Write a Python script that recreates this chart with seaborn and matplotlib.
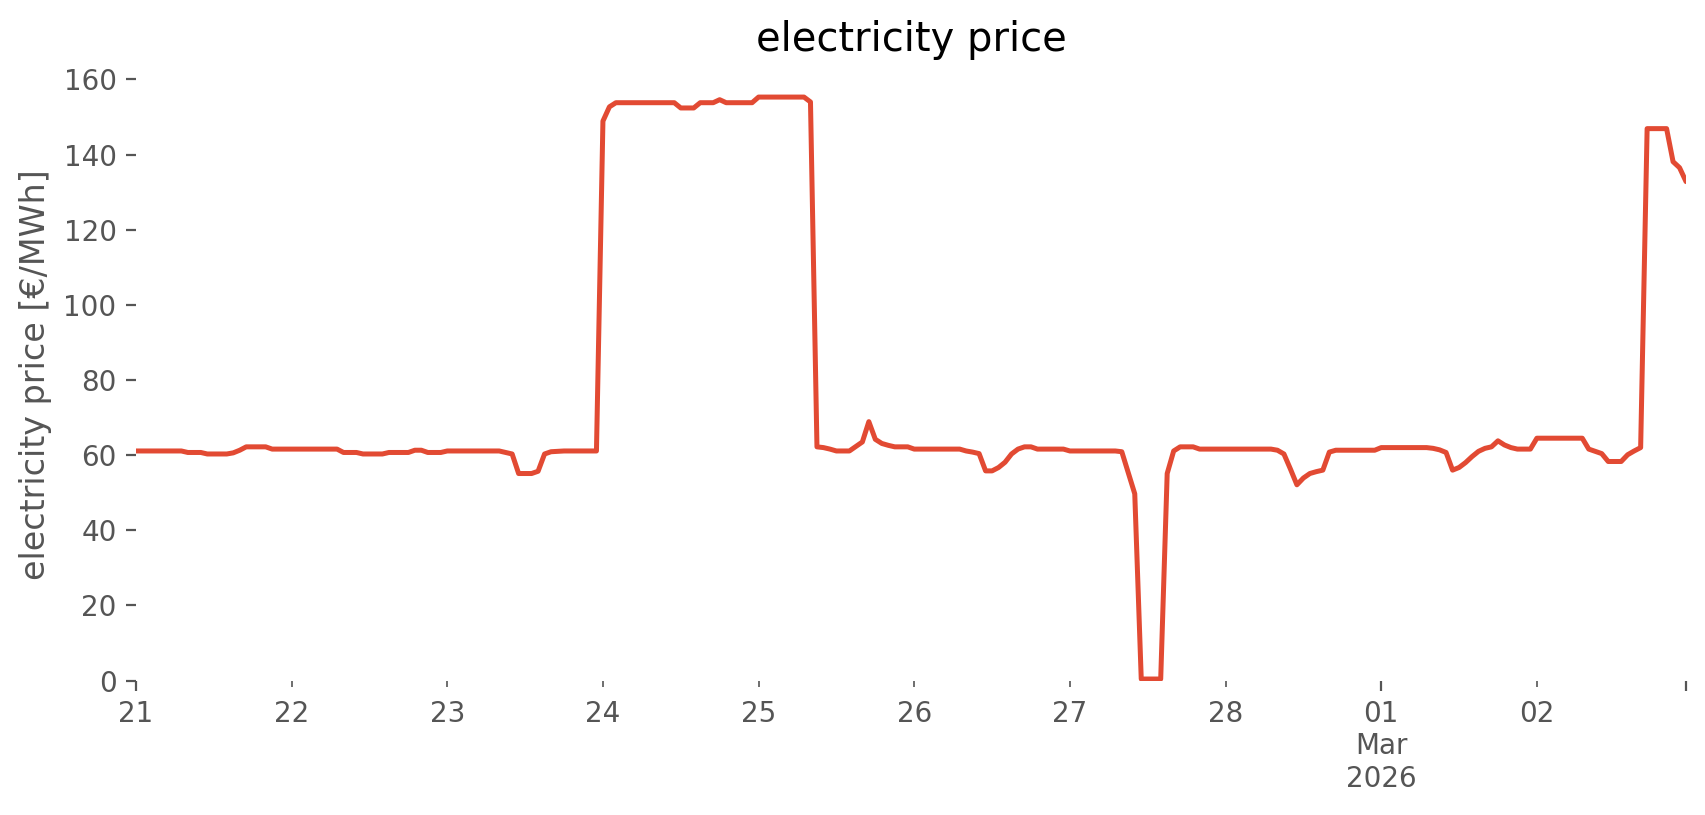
import matplotlib
matplotlib.use('Agg')
import matplotlib.pyplot as plt
import seaborn as sns
import numpy as np
import pandas as pd

# hourly day-ahead prices [EUR/MWh]
feb21 = [61.1, 61.1, 61.1, 61.1, 61.1, 61.1, 61.1, 61.1, 60.7, 60.7, 60.7, 60.3,
         60.3, 60.3, 60.3, 60.6, 61.3, 62.2, 62.2, 62.2, 62.2, 61.6, 61.6, 61.6]
feb22 = [61.6, 61.6, 61.6, 61.6, 61.6, 61.6, 61.6, 61.6, 60.7, 60.7, 60.7, 60.3,
         60.3, 60.3, 60.3, 60.7, 60.7, 60.7, 60.7, 61.3, 61.3, 60.7, 60.7, 60.7]
feb23 = [61.1, 61.1, 61.1, 61.1, 61.1, 61.1, 61.1, 61.1, 61.1, 60.7, 60.3, 55.1,
         55.1, 55.1, 55.7, 60.3, 60.9, 61.0, 61.1, 61.1, 61.1, 61.1, 61.1, 61.1]
feb24 = [148.9, 152.7, 153.8, 153.8, 153.8, 153.8, 153.8, 153.8, 153.8, 153.8, 153.8, 153.8,
         152.4, 152.4, 152.4, 153.8, 153.8, 153.8, 154.6, 153.8, 153.8, 153.8, 153.8, 153.8]
feb25 = [155.3, 155.3, 155.3, 155.3, 155.3, 155.3, 155.3, 155.3, 154.0, 62.2, 62.0, 61.6,
         61.1, 61.1, 61.1, 62.3, 63.5, 68.9, 64.2, 63.1, 62.6, 62.2, 62.2, 62.2]
feb26 = [61.6, 61.6, 61.6, 61.6, 61.6, 61.6, 61.6, 61.6, 61.1, 60.8, 60.4, 55.8,
         55.8, 56.7, 58.1, 60.3, 61.6, 62.2, 62.2, 61.6, 61.6, 61.6, 61.6, 61.6]
feb27 = [61.1, 61.1, 61.1, 61.1, 61.1, 61.1, 61.1, 61.1, 60.9, 55.3, 49.7, 0.4,
         0.4, 0.4, 0.4, 55.1, 61.1, 62.2, 62.2, 62.2, 61.6, 61.6, 61.6, 61.6]
feb28 = [61.6, 61.6, 61.6, 61.6, 61.6, 61.6, 61.6, 61.6, 61.3, 60.3, 56.3, 52.1,
         53.9, 55.1, 55.6, 56.0, 60.8, 61.3, 61.3, 61.3, 61.3, 61.3, 61.3, 61.3]
mar01 = [62.0, 62.0, 62.0, 62.0, 62.0, 62.0, 62.0, 62.0, 61.8, 61.4, 60.7, 56.0,
         56.7, 58.0, 59.6, 61.0, 61.8, 62.2, 63.8, 62.7, 62.0, 61.6, 61.6, 61.6]
mar02 = [64.5, 64.5, 64.5, 64.5, 64.5, 64.5, 64.5, 64.5, 61.6, 61.0, 60.4, 58.3,
         58.3, 58.3, 60.1, 61.1, 62.0, 146.9, 146.9, 146.9, 146.9, 138.1, 136.5, 132.8]

start_time = '2026-02-21 00:00'
major_dates = ['2026-02-21 00:00', '2026-03-01 00:00', '2026-03-02 23:00']
major_labels = ['21', '01\nMar\n2026', '']
minor_dates = ['2026-02-22', '2026-02-23', '2026-02-24', '2026-02-25',
               '2026-02-26', '2026-02-27', '2026-02-28', '2026-03-02']
minor_labels = ['22', '23', '24', '25', '26', '27', '28', '02']
y_ticks = [0, 20, 40, 60, 80, 100, 120, 140, 160]

prices = feb21 + feb22 + feb23 + feb24 + feb25 + feb26 + feb27 + feb28 + mar01 + mar02
df = pd.DataFrame({
    'time': pd.date_range(start_time, periods=len(prices), freq='h'),
    'price': prices,
})

sns.set_style('white', {
    'axes.spines.left': False, 'axes.spines.right': False,
    'axes.spines.top': False, 'axes.spines.bottom': False,
    'xtick.bottom': True, 'ytick.left': True,
    'xtick.color': '#555555', 'ytick.color': '#555555',
    'axes.labelcolor': '#555555',
})
plt.rcParams['font.family'] = ['DejaVu Sans']
plt.rcParams['xtick.direction'] = 'out'
plt.rcParams['ytick.direction'] = 'out'

fig, ax = plt.subplots(figsize=(1706 / 200, 815 / 200), dpi=200)
fig.subplots_adjust(left=0.0797, right=0.9883, bottom=0.165, top=0.9166)

sns.lineplot(data=df, x='time', y='price', ax=ax, color='#E24A33', linewidth=1.8)

ax.set_xlim(df.time.min(), df.time.max())
ax.set_ylim(bottom=0)
ax.set_yticks(y_ticks)
ax.set_yticklabels([str(v) for v in y_ticks])

ax.set_xticks(pd.to_datetime(major_dates, format='%Y-%m-%d %H:%M'))
ax.set_xticklabels(major_labels)
ax.set_xticks(pd.to_datetime(minor_dates, format='%Y-%m-%d'), minor=True)
ax.set_xticklabels(minor_labels, minor=True)
ax.tick_params(axis='both', which='major', labelsize=10, length=3.5, width=0.8, colors='#555555')
ax.tick_params(axis='x', which='minor', labelsize=10, length=2, width=0.6, colors='#555555', pad=5)
ax.tick_params(axis='x', which='major', pad=3.5)

ax.set_xlabel('')
ax.set_ylabel('electricity price [€/MWh]', fontsize=12)
ax.set_title('electricity price', fontsize=14.4, color='black')
ax.grid(False)

fig.savefig('out.png', dpi=200, facecolor='white')
